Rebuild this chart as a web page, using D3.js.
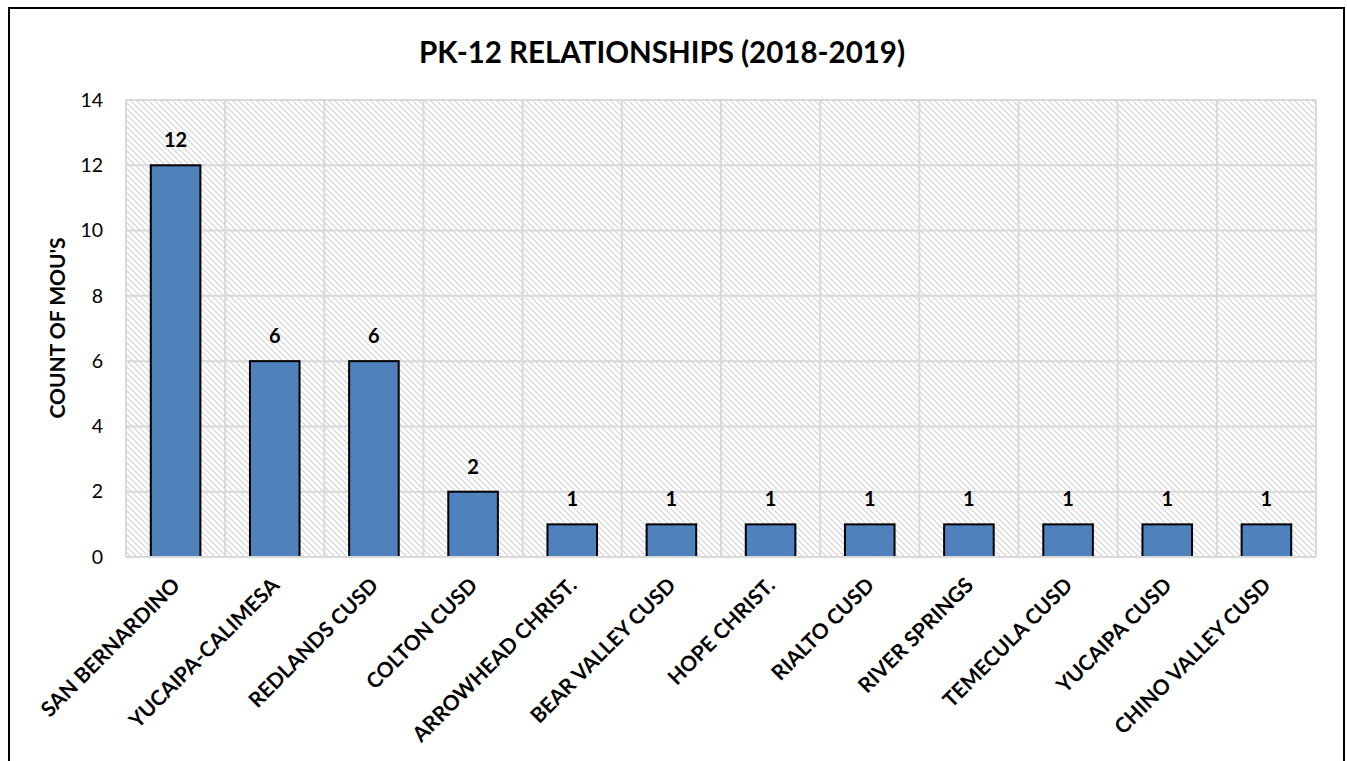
<!DOCTYPE html>
<html><head><meta charset="utf-8">
<script src="https://cdn.jsdelivr.net/npm/d3@7"></script>
<style>body{margin:0;background:#fff;} svg{display:block;} text{font-family:Lato,"Open Sans",sans-serif;}</style>
</head><body>
<svg id="c" width="1347" height="761"></svg>
<script>
const categories = ["SAN BERNARDINO","YUCAIPA-CALIMESA","REDLANDS CUSD","COLTON CUSD","ARROWHEAD CHRIST.","BEAR VALLEY CUSD","HOPE CHRIST.","RIALTO CUSD","RIVER SPRINGS","TEMECULA CUSD","YUCAIPA CUSD","CHINO VALLEY CUSD"];
const values = [12,6,6,2,1,1,1,1,1,1,1,1];
const yTicks = [0,2,4,6,8,10,12,14];
const title = "PK-12 RELATIONSHIPS (2018-2019)";
const yTitle = "COUNT OF MOU'S";

const svg = d3.select("#c");
const defs = svg.append("defs");
const pat = defs.append("pattern").attr("id","hatch").attr("patternUnits","userSpaceOnUse")
  .attr("width",6).attr("height",6);
pat.append("rect").attr("width",6).attr("height",6).attr("fill","#fff");
pat.append("path").attr("d","M-1,-1 L7,7 M-1,5 L1,7 M5,-1 L7,1").attr("stroke","#d2d2d2").attr("stroke-width",1.1);

// chart border
svg.append("rect").attr("x",9).attr("y",8).attr("width",1335).attr("height",770)
  .attr("fill","none").attr("stroke","#000").attr("stroke-width",2);

const L=126, R=1316, T=100, B=557;
const x = d3.scaleBand().domain(categories).range([L,R]).paddingInner(0.5).paddingOuter(0.25);
const y = d3.scaleLinear().domain([0,14]).range([B,T]);

svg.append("rect").attr("x",L).attr("y",T).attr("width",R-L).attr("height",B-T).attr("fill","url(#hatch)");

// gridlines horizontal
svg.append("g").selectAll("line").data(yTicks).join("line")
  .attr("x1",L).attr("x2",R).attr("y1",d=>y(d)).attr("y2",d=>y(d))
  .attr("stroke","#d9d9d9").attr("stroke-width",2);
// vertical gridlines at band boundaries
const vb = d3.range(categories.length+1).map(i=>L+i*(R-L)/categories.length);
svg.append("g").selectAll("line").data(vb).join("line")
  .attr("x1",d=>d).attr("x2",d=>d).attr("y1",T).attr("y2",B)
  .attr("stroke","#d9d9d9").attr("stroke-width",2);

// y axis labels
const yAxis = d3.axisLeft(y).tickValues(yTicks).tickSize(0).tickPadding(0);
const ga = svg.append("g").attr("transform",`translate(${L-23},0)`).call(yAxis);
ga.select(".domain").remove();
ga.selectAll("text").attr("font-size",19.5).attr("fill","#000").style("font-family","Lato,sans-serif");

// bars
svg.append("g").selectAll("rect").data(values).join("rect")
  .attr("x",(d,i)=>x(categories[i])).attr("width",x.bandwidth())
  .attr("y",d=>y(d)).attr("height",d=>B-y(d))
  .attr("fill","#4f81bd").attr("stroke","#000").attr("stroke-width",2);

// baseline
svg.append("line").attr("x1",L).attr("x2",R).attr("y1",B).attr("y2",B).attr("stroke","#d9d9d9").attr("stroke-width",2);

// value labels
svg.append("g").selectAll("text").data(values).join("text")
  .attr("x",(d,i)=>x(categories[i])+x.bandwidth()/2).attr("y",d=>y(d)-18)
  .attr("text-anchor","middle").attr("font-size",20).attr("font-weight","bold").text(d=>d);

// category labels
svg.append("g").selectAll("text").data(categories).join("text")
  .attr("transform",d=>`translate(${x(d)+x.bandwidth()/2-5},${B+19}) rotate(-45)`)
  .attr("text-anchor","end").attr("dy","0.72em")
  .attr("font-size",21).attr("font-weight","bold").text(d=>d);

// title
svg.append("text").attr("x",662).attr("y",63).attr("text-anchor","middle")
  .attr("font-size",29.5).attr("font-weight","bold").text(title);

// y title
svg.append("text").attr("transform",`translate(65,328) rotate(-90)`)
  .attr("text-anchor","middle").attr("font-size",21).attr("font-weight","bold").text(yTitle);
</script>
</body></html>
